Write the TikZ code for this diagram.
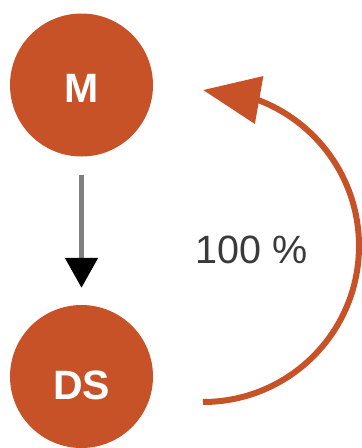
\documentclass[tikz,border=0pt]{standalone}
\usepackage{fontspec}
\setmainfont{Liberation Sans}
\usetikzlibrary{arrows.meta,bending}
\definecolor{rust}{RGB}{200,82,40}
\definecolor{stem}{RGB}{128,128,128}
\definecolor{labelgrey}{RGB}{58,58,58}
\tikzset{
  statecircle/.style={circle, fill=rust, draw=none, minimum size=143pt, inner sep=0pt},
  statetext/.style={text=white, font=\fontsize{41}{41}\selectfont\bfseries, inner sep=0pt},
  flowarrow/.style={draw=stem, line width=5pt,
    -{Triangle[length=30pt,width=32pt,color=black]}},
  looparrow/.style={draw=rust, line width=6pt,
    -{Triangle[length=57pt,width=47pt,flex]}},
}
\begin{document}
\begin{tikzpicture}[x=1pt,y=-1pt]
  \useasboundingbox (0,0) rectangle (362,448);
  % the two states
  \node[statecircle] (M)  at (81.5,85)    {};
  \node[statecircle] (DS) at (81.5,376.5) {};
  \node[statetext] (Mtext)  at (81.5,88)  {M};
  \node[statetext] (DStext) at (81.5,385) {DS};
  % transition M -> DS
  \draw[flowarrow, shorten <=18pt, shorten >=17pt] (M.south) -- (DS.north);
  % return loop DS -> M
  \coordinate (loopstart) at (203,402);
  \coordinate (looptip)   at (203,90);
  \draw[looparrow] (loopstart) arc[start angle=90, end angle=-90, radius=156];
  \node[anchor=base, text=labelgrey, font=\fontsize{39.5}{39.5}\selectfont, inner sep=0pt]
    (share) at (251.5,263) {100 \%};
\end{tikzpicture}
\end{document}
